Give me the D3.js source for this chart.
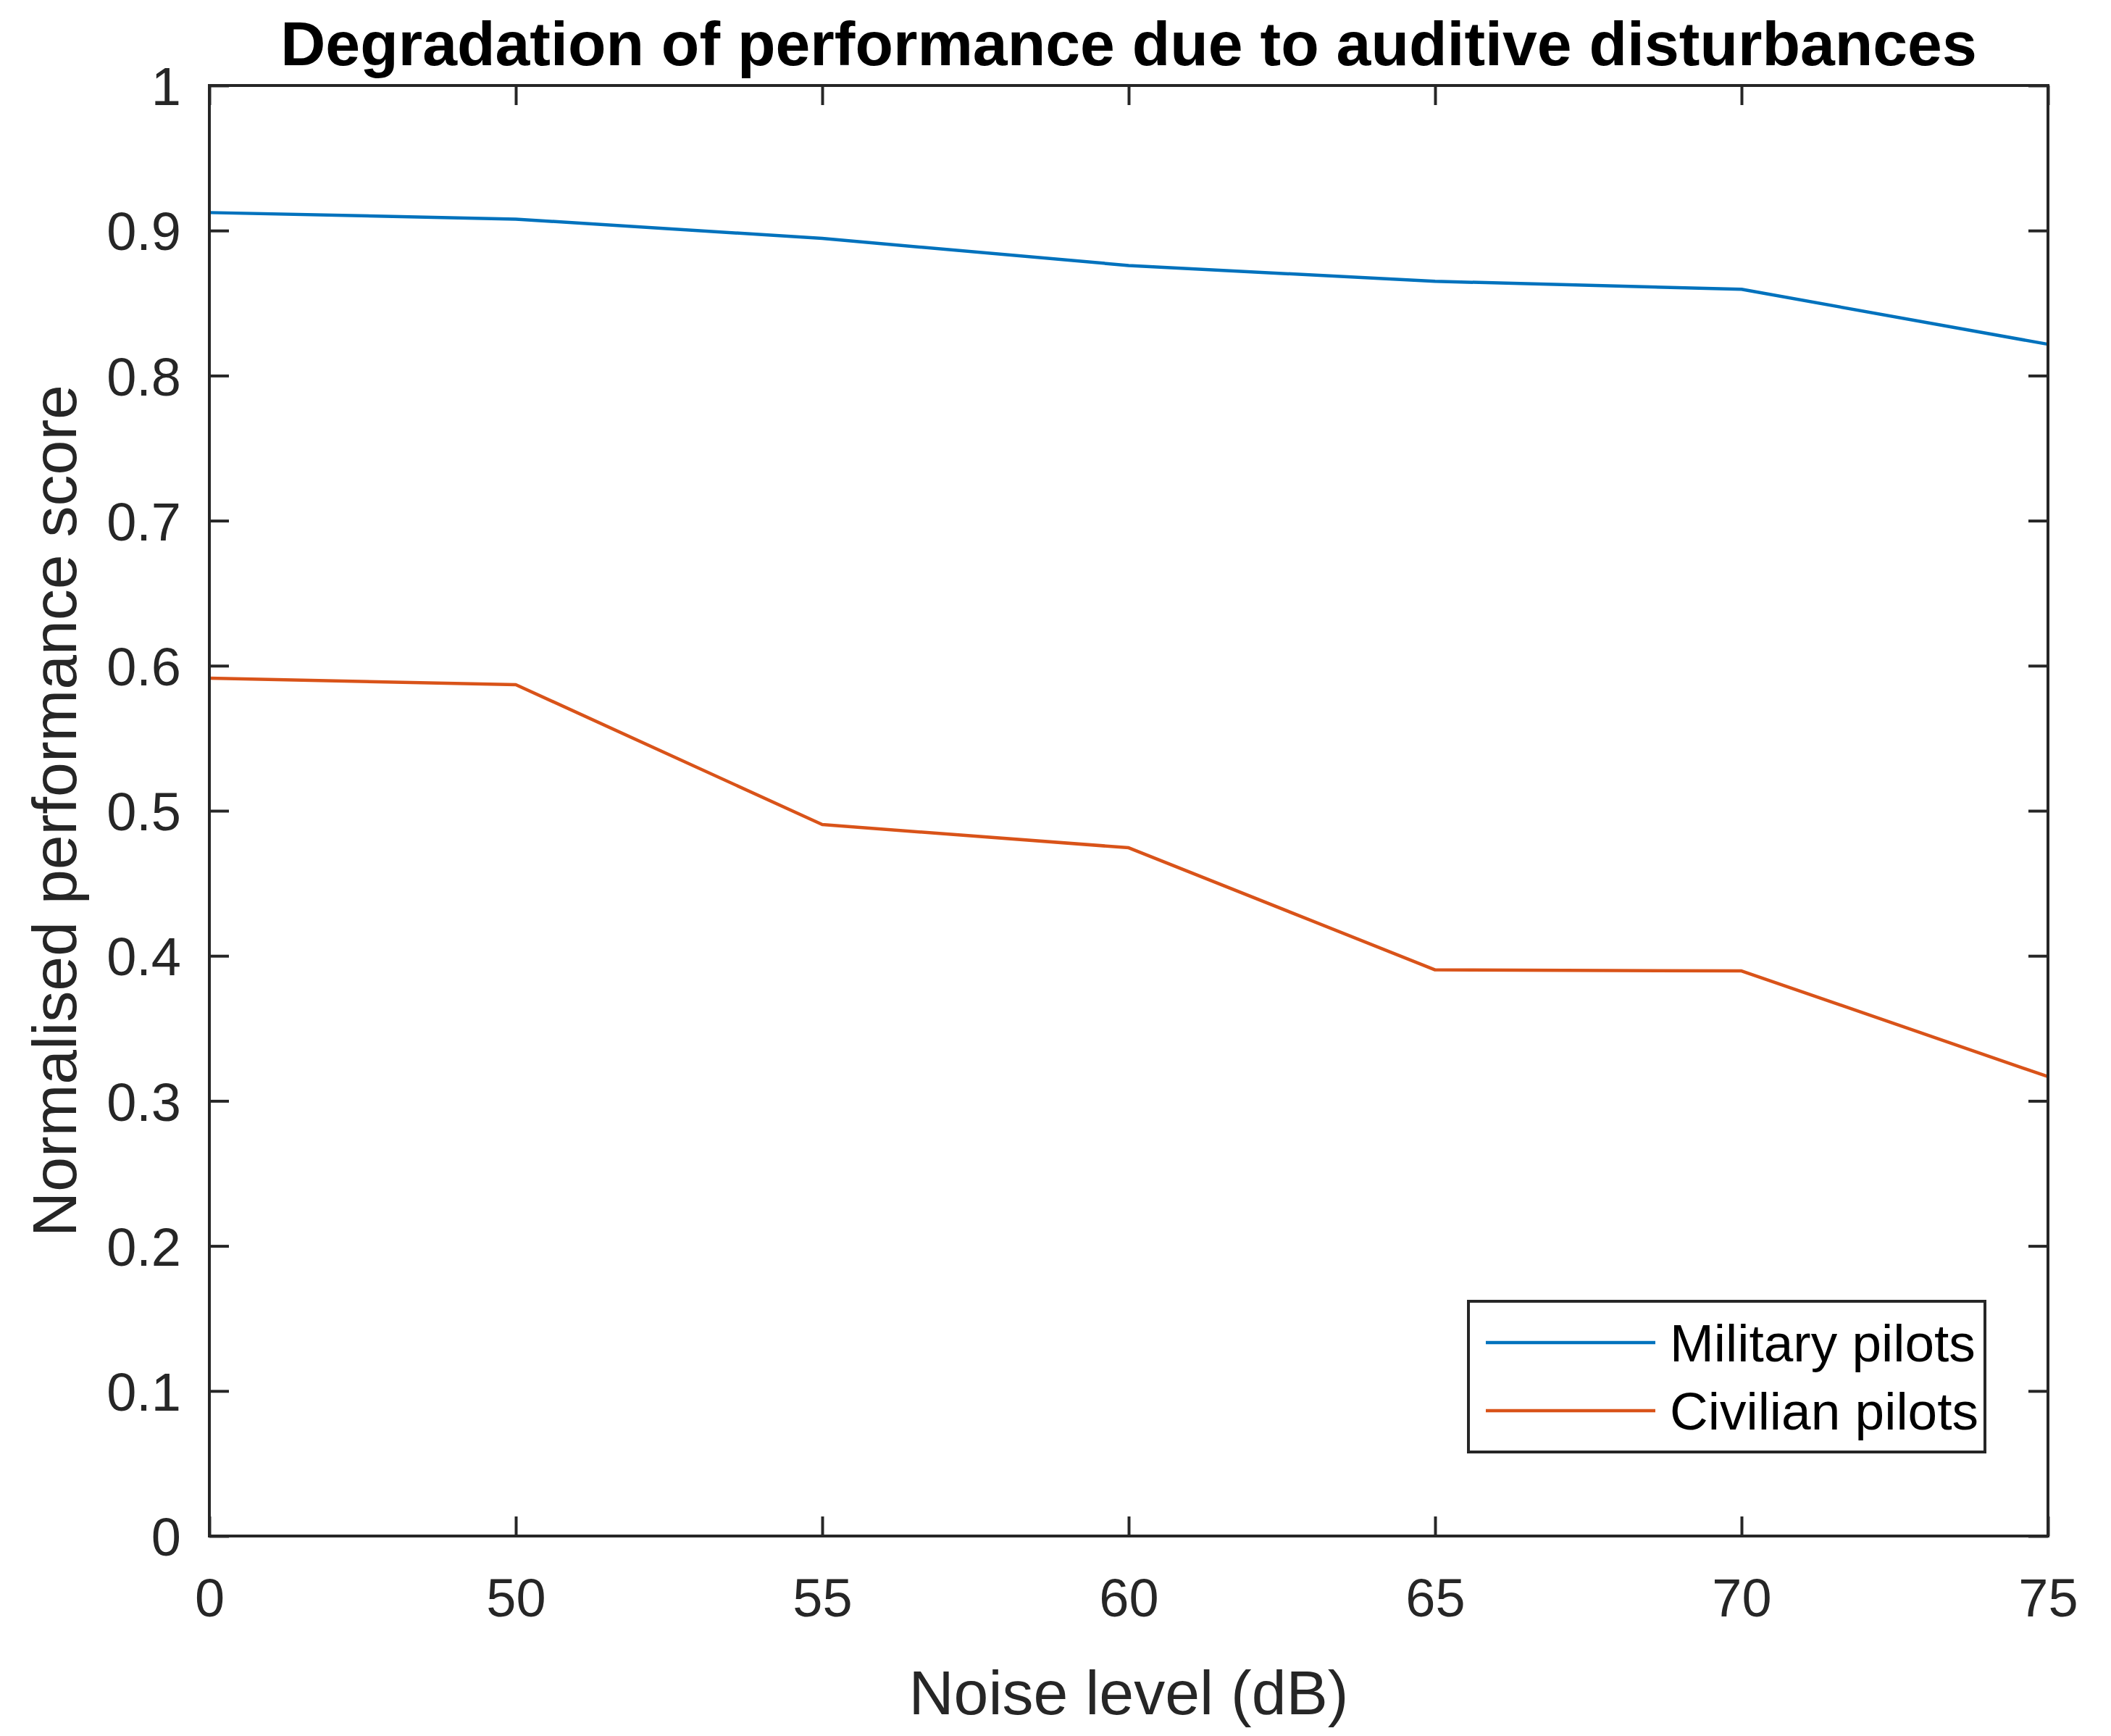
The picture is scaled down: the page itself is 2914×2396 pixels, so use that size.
<!DOCTYPE html>
<html>
<head>
<meta charset="utf-8">
<script src="https://cdn.jsdelivr.net/npm/d3@7"></script>
<style>
  body { margin: 0; background: #fff; }
  svg { display: block; font-family: "Liberation Sans", Arial, Helvetica, sans-serif; }
</style>
</head>
<body>
<div id="chart"></div>
<script>
// data
const noiseLevels = ["0", "50", "55", "60", "65", "70", "75"];
const military = [0.9124, 0.9079, 0.8946, 0.8759, 0.8650, 0.8595, 0.8216];
const civilian = [0.5914, 0.5869, 0.4905, 0.4745, 0.3903, 0.3896, 0.3167];
const seriesNames = ["Military pilots", "Civilian pilots"];
const yTicks = [0, 0.1, 0.2, 0.3, 0.4, 0.5, 0.6, 0.7, 0.8, 0.9, 1];

const WIDTH = 2914, HEIGHT = 2396;
const MARGIN = { left: 289, right: 87, top: 118, bottom: 276 };
const INNER_WIDTH = WIDTH - MARGIN.left - MARGIN.right;
const INNER_HEIGHT = HEIGHT - MARGIN.top - MARGIN.bottom;
const AXIS_COLOR = "#262626";
const COLORS = ["#0072BD", "#D95319"];
const TICK = 27;

const svg = d3.select("#chart")
    .append("svg")
    .attr("width", WIDTH)
    .attr("height", HEIGHT)
    .append("g")
    .attr("transform", `translate(${MARGIN.left},${MARGIN.top})`);

const x = d3.scalePoint()
    .domain(noiseLevels)
    .range([0, INNER_WIDTH]);

const y = d3.scaleLinear()
    .domain([0, 1])
    .range([INNER_HEIGHT, 0]);

const fmt = d => d3.format(".1~f")(d);

// --- Axes (ticks inside, mirrored on top/right) ---
function styleAxis(g) {
    g.select(".domain").remove();
    g.selectAll(".tick line").attr("stroke", AXIS_COLOR).attr("stroke-width", 4);
    g.selectAll(".tick text")
        .attr("fill", AXIS_COLOR)
        .style("font-size", "74px");
}

svg.append("g")
    .attr("transform", `translate(0,${INNER_HEIGHT})`)
    .call(d3.axisBottom(x).tickSize(-TICK).tickPadding(58))
    .call(styleAxis);

svg.append("g")
    .call(d3.axisLeft(y).tickValues(yTicks).tickFormat(fmt).tickSize(-TICK).tickPadding(39))
    .call(styleAxis)
    .selectAll(".tick text").attr("dy", "0.36em");

svg.append("g")
    .call(d3.axisTop(x).tickSize(-TICK).tickFormat(""))
    .call(styleAxis);

svg.append("g")
    .attr("transform", `translate(${INNER_WIDTH},0)`)
    .call(d3.axisRight(y).tickValues(yTicks).tickSize(-TICK).tickFormat(""))
    .call(styleAxis);

// --- Lines ---
const line = d3.line()
    .x((d, i) => x(noiseLevels[i]))
    .y(d => y(d));

[military, civilian].forEach((values, k) => {
    svg.append("path")
        .datum(values)
        .attr("fill", "none")
        .attr("stroke", COLORS[k])
        .attr("stroke-width", 4.5)
        .attr("stroke-linejoin", "round")
        .attr("d", line);
});

// axes box
svg.append("rect")
    .attr("x", 0).attr("y", 0)
    .attr("width", INNER_WIDTH).attr("height", INNER_HEIGHT)
    .attr("fill", "none")
    .attr("stroke", AXIS_COLOR)
    .attr("stroke-width", 4);

// --- Axis labels ---
svg.append("text")
    .attr("x", INNER_WIDTH / 2)
    .attr("y", INNER_HEIGHT + 246)
    .attr("text-anchor", "middle")
    .attr("fill", AXIS_COLOR)
    .style("font-size", "86px")
    .text("Noise level (dB)");

svg.append("text")
    .attr("transform", `translate(${105 - MARGIN.left},${INNER_HEIGHT / 2}) rotate(-90)`)
    .attr("text-anchor", "middle")
    .attr("fill", AXIS_COLOR)
    .style("font-size", "86px")
    .text("Normalised performance score");

// --- Title ---
svg.append("text")
    .attr("x", INNER_WIDTH / 2)
    .attr("y", 90 - MARGIN.top)
    .attr("text-anchor", "middle")
    .attr("fill", "#000")
    .style("font-size", "86px")
    .style("font-weight", "bold")
    .text("Degradation of performance due to auditive disturbances");

// --- Legend ---
const legend = svg.append("g")
    .attr("transform", `translate(${2027 - MARGIN.left},${1796 - MARGIN.top})`);

legend.append("rect")
    .attr("width", 713).attr("height", 208)
    .attr("fill", "#fff")
    .attr("stroke", AXIS_COLOR)
    .attr("stroke-width", 4);

seriesNames.forEach((name, i) => {
    const ly = 57 + i * 94;
    legend.append("line")
        .attr("x1", 24).attr("x2", 258)
        .attr("y1", ly).attr("y2", ly)
        .attr("stroke", COLORS[i])
        .attr("stroke-width", 4.5);
    legend.append("text")
        .attr("x", 278).attr("y", ly)
        .attr("dy", "0.36em")
        .attr("fill", "#000")
        .style("font-size", "73px")
        .text(name);
});
</script>
</body>
</html>
